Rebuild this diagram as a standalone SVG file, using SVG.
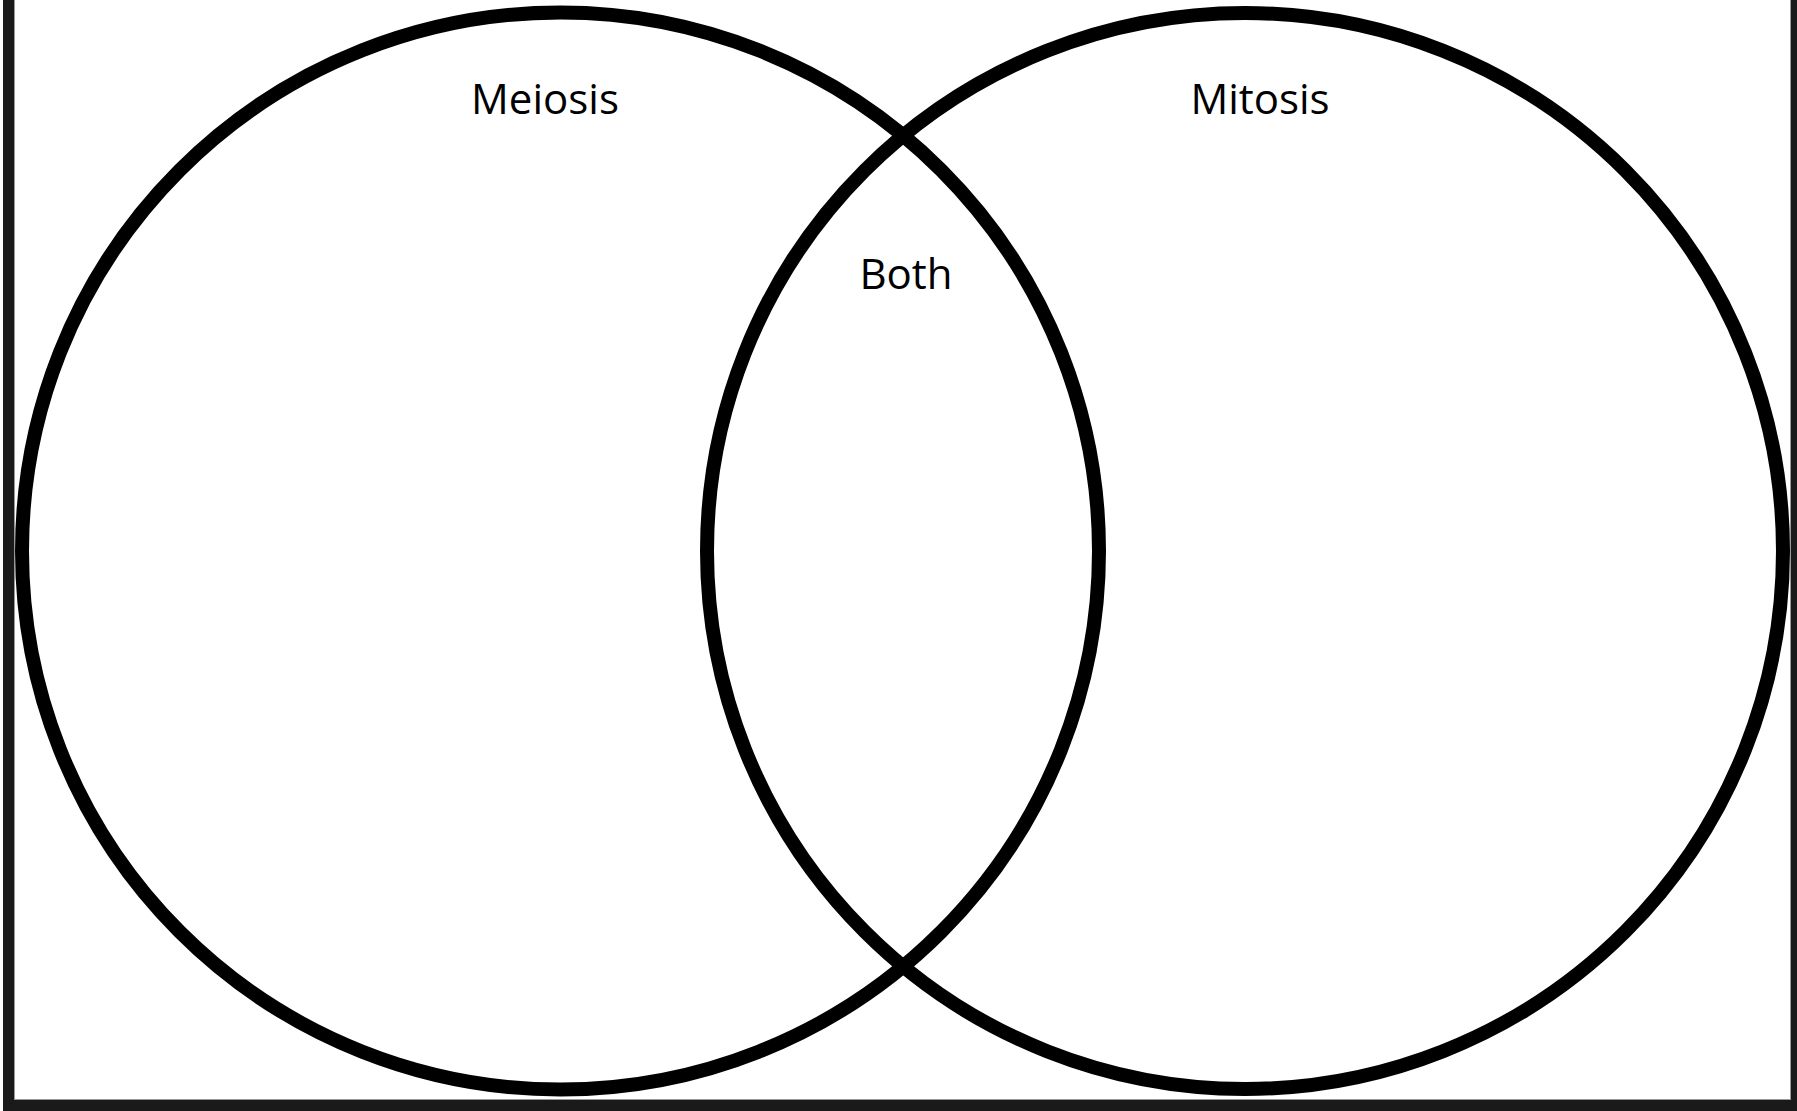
<svg xmlns="http://www.w3.org/2000/svg" width="1797" height="1111" viewBox="0 0 1797 1111">
<style>
.frame{fill:#1a1a1a}
.ring{fill:none;stroke:#000;stroke-width:14}
.lbl{font-family:"Open Sans","Noto Sans",sans-serif;font-size:42px;fill:#000;text-anchor:middle}
</style>
<rect x="0" y="0" width="1797" height="1111" fill="#fff"/>
<g id="frame">
<rect class="frame" x="3" y="0" width="11" height="1111"/>
<rect class="frame" x="3" y="1100" width="1794" height="11"/>
<rect class="frame" x="1791" y="0" width="6" height="1111"/>
<line x1="14.5" y1="0" x2="14.5" y2="1099" stroke="#999" stroke-width="1"/>
<line x1="14" y1="1099.5" x2="1791" y2="1099.5" stroke="#999" stroke-width="1"/>
<line x1="1790.5" y1="0" x2="1790.5" y2="1099" stroke="#999" stroke-width="1"/>
</g>
<g id="meiosis">
<circle class="ring" cx="560.5" cy="551" r="538.5"/>
<text class="lbl" x="545" y="114">Meiosis</text>
</g>
<g id="mitosis">
<circle class="ring" cx="1245" cy="551" r="538"/>
<text class="lbl" x="1260" y="114">Mitosis</text>
</g>
<g id="both">
<text class="lbl" x="906" y="289">Both</text>
</g>
<g id="connectors"></g>
</svg>
